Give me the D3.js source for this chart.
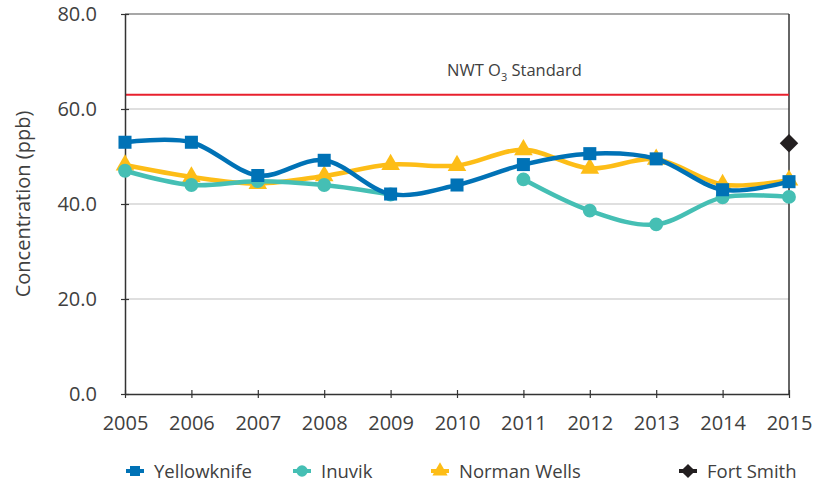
<!DOCTYPE html>
<html>
<head>
<meta charset="utf-8">
<script src="https://cdn.jsdelivr.net/npm/d3@7"></script>
<style>
  body { margin: 0; background: #fff; }
  text { font-family: "Open Sans", sans-serif; fill: #404040; }
</style>
</head>
<body>
<div id="chart"></div>
<script>
// Data
var years = [2005, 2006, 2007, 2008, 2009, 2010, 2011, 2012, 2013, 2014, 2015];
var yellowknife = [53.0, 53.0, 46.0, 49.2, 42.1, 44.0, 48.3, 50.6, 49.5, 43.0, 44.7];
var inuvik = [47.0, 44.0, 44.8, 44.0, 42.0, null, 45.2, 38.6, 35.7, 41.4, 41.5];
var normanWells = [48.2, 45.7, 44.3, 45.9, 48.3, 48.1, 51.4, 47.5, 49.4, 44.1, 45.0];
var fortSmith = [null, null, null, null, null, null, null, null, null, null, 52.8];
var yTicks = [0, 20, 40, 60, 80];
var standard = 63;

var width = 815, height = 485;
var margin = { top: 14, right: 26, bottom: 91, left: 125 };

var svg = d3.select("#chart").append("svg")
    .attr("width", width)
    .attr("height", height);

var x = d3.scaleLinear().domain([2005, 2015]).range([margin.left, width - margin.right]);
var y = d3.scaleLinear().domain([0, 80]).range([height - margin.bottom, margin.top]);

// a diamond the way Excel draws it (square turned 45 degrees)
var diamond = {
    draw: function (ctx, size) {
        var r = Math.sqrt(size / 2);
        ctx.moveTo(0, -r); ctx.lineTo(r, 0); ctx.lineTo(0, r); ctx.lineTo(-r, 0); ctx.closePath();
    }
};

// Gridlines
svg.append("g")
    .selectAll("line")
    .data(yTicks.slice(1, 4))
    .enter().append("line")
    .attr("x1", x(2005)).attr("x2", x(2015))
    .attr("y1", d => y(d)).attr("y2", d => y(d))
    .attr("stroke", "#d4d4d4")
    .attr("stroke-width", 1.5);

// Top and right border
svg.append("line")
    .attr("x1", x(2005)).attr("x2", x(2015))
    .attr("y1", y(80)).attr("y2", y(80))
    .attr("stroke", "#8a8a8a").attr("stroke-width", 1.5);
svg.append("line")
    .attr("x1", x(2015)).attr("x2", x(2015))
    .attr("y1", y(80)).attr("y2", y(0))
    .attr("stroke", "#333").attr("stroke-width", 1.5);

// Standard line
svg.append("line")
    .attr("x1", x(2005)).attr("x2", x(2015))
    .attr("y1", y(standard)).attr("y2", y(standard))
    .attr("stroke", "#e8202e").attr("stroke-width", 2);

var stdLabel = svg.append("text")
    .attr("x", 447).attr("y", y(standard) - 19)
    .attr("font-size", 16.5);
stdLabel.append("tspan").text("NWT O");
stdLabel.append("tspan").attr("font-size", 11).attr("dy", 5).text("3");
stdLabel.append("tspan").attr("dy", -5).text(" Standard");

// Axes
var yAxis = d3.axisLeft(y).tickValues(yTicks).tickFormat(d3.format(".1f")).tickSizeInner(4).tickSizeOuter(0).tickPadding(24);
var gy = svg.append("g").attr("transform", "translate(" + margin.left + ",0)").call(yAxis);
gy.selectAll(".tick line").attr("x2", 4).attr("x1", -4);

var xAxis = d3.axisBottom(x).tickValues(years).tickFormat(d3.format("d")).tickSizeInner(4).tickSizeOuter(0).tickPadding(18);
var gx = svg.append("g").attr("transform", "translate(0," + y(0) + ")").call(xAxis);
gx.selectAll(".tick line").attr("y1", -4).attr("y2", 4);

[gx, gy].forEach(g => {
    g.select(".domain").attr("stroke", "#333").attr("stroke-width", 1.5);
    g.selectAll(".tick line").attr("stroke", "#333").attr("stroke-width", 1.2);
    g.selectAll("text").attr("font-size", 20).attr("fill", "#404040").style("font-family", "'Open Sans', sans-serif");
});

svg.append("text")
    .attr("transform", "translate(30," + y(40) + ") rotate(-90)")
    .attr("text-anchor", "middle")
    .attr("font-size", 20)
    .text("Concentration (ppb)");

// Series
var series = [
    { name: "Norman Wells", values: normanWells, color: "#fdbd17", shape: d3.symbolTriangle, size: 150 },
    { name: "Inuvik", values: inuvik, color: "#45bfb4", shape: d3.symbolCircle, size: 150 },
    { name: "Yellowknife", values: yellowknife, color: "#0072b6", shape: d3.symbolSquare, size: 170 },
    { name: "Fort Smith", values: fortSmith, color: "#231f20", shape: diamond, size: 170 }
];

var line = d3.line()
    .defined(d => d.v != null)
    .x(d => x(d.year))
    .y(d => y(d.v))
    .curve(d3.curveCatmullRom.alpha(0));

series.forEach(s => {
    var pts = years.map((year, i) => ({ year: year, v: s.values[i] }));
    svg.append("path")
        .datum(pts)
        .attr("d", line)
        .attr("fill", "none")
        .attr("stroke", s.color)
        .attr("stroke-width", 4.5);
    svg.append("g")
        .selectAll("path")
        .data(pts.filter(d => d.v != null))
        .enter().append("path")
        .attr("d", d3.symbol().type(s.shape).size(s.size))
        .attr("transform", d => "translate(" + x(d.year) + "," + y(d.v) + ")")
        .attr("fill", s.color);
});

// Legend
var legendItems = [
    { name: "Yellowknife", color: "#0072b6", shape: d3.symbolSquare, x: 135 },
    { name: "Inuvik", color: "#45bfb4", shape: d3.symbolCircle, x: 302 },
    { name: "Norman Wells", color: "#fdbd17", shape: d3.symbolTriangle, x: 440 },
    { name: "Fort Smith", color: "#231f20", shape: diamond, x: 688 }
];
var legend = svg.append("g").attr("transform", "translate(0,471)");
legendItems.forEach(d => {
    legend.append("line")
        .attr("x1", d.x - 9).attr("x2", d.x + 9)
        .attr("stroke", d.color).attr("stroke-width", 4);
    legend.append("path")
        .attr("d", d3.symbol().type(d.shape).size(100))
        .attr("transform", "translate(" + d.x + ",0)")
        .attr("fill", d.color);
    legend.append("text")
        .attr("x", d.x + 19).attr("y", 7)
        .attr("font-size", 18.5)
        .text(d.name);
});
</script>
</body>
</html>
